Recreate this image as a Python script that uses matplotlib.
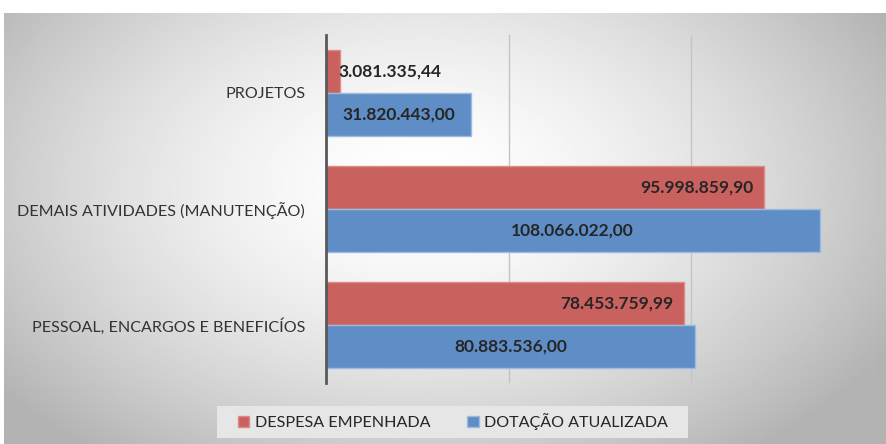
""" Despesa empenhada x dotação atualizada """
import numpy as np
from matplotlib import pyplot as plt
from matplotlib.patches import Rectangle

categorias = ["PESSOAL, ENCARGOS E BENEFICÍOS",
              "DEMAIS ATIVIDADES (MANUTENÇÃO)",
              "PROJETOS"]
despesa_empenhada = [78453759.99, 95998859.90, 3081335.44]
dotacao_atualizada = [80883536.00, 108066022.00, 31820443.00]
series = ["DESPESA EMPENHADA", "DOTAÇÃO ATUALIZADA"]


def fmt_br(v):
    s = f"{v:,.2f}"
    return s.replace(",", "X").replace(".", ",").replace("X", ".")


plt.rcParams["font.family"] = ["Lato", "DejaVu Sans"]

fig = plt.figure(figsize=(8.86, 4.44), dpi=100)
fig.patch.set_facecolor("white")

# fundo com gradiente radial
bg = fig.add_axes([4 / 886, 0, 882 / 886, 431 / 444])
yy, xx = np.mgrid[-1:1:300j, -1:1:600j]
r = np.sqrt(((xx + 0.05) / 1.0) ** 2 + ((yy + 0.2) / 1.3) ** 2)
grad = 1.0 - 0.22 * np.clip(r, 0, 1.2) ** 1.6
bg.imshow(grad, cmap="gray", vmin=0, vmax=1, aspect="auto",
          extent=[0, 1, 0, 1], interpolation="bilinear")
bg.axis("off")

ax = fig.add_axes([326 / 886, 61 / 444, 548 / 886, 348 / 444])
ax.set_facecolor("none")

y = np.arange(len(categorias))
h = 0.373
red = "#c9615f"
blue = "#5f8dc5"
lbl = dict(fontsize=12.5, fontweight="bold", color="#262626", zorder=4)

b1 = ax.barh(y + h / 2, despesa_empenhada, h, color=red,
             edgecolor="#e08a88", linewidth=1, label=series[0], zorder=3)
b2 = ax.barh(y - h / 2, dotacao_atualizada, h, color=blue,
             edgecolor="#9dbbe0", linewidth=1, label=series[1], zorder=3)

# rótulos: vermelho na ponta interna, azul no centro
for rect, v in zip(b1, despesa_empenhada):
    yc = rect.get_y() + rect.get_height() / 2
    if v < 10e6:
        ax.annotate(fmt_br(v), (v, yc), xytext=(-1, 0),
                    textcoords="offset points", ha="left", va="center", **lbl)
    else:
        ax.annotate(fmt_br(v), (v, yc), xytext=(-8, 0),
                    textcoords="offset points", ha="right", va="center", **lbl)
for rect, v in zip(b2, dotacao_atualizada):
    yc = rect.get_y() + rect.get_height() / 2
    ax.text(v / 2, yc, fmt_br(v), ha="center", va="center", **lbl)

ax.set_xlim(0, 120e6)
ax.set_ylim(-0.5, 2.5)
ax.set_xticks([40e6, 80e6, 120e6])
ax.set_xticklabels([])
ax.tick_params(axis="x", length=0)
ax.grid(axis="x", color="#c4c4c4", linewidth=1, zorder=0)
ax.set_yticks(y)
ax.set_yticklabels(categorias, fontsize=11.6, color="#333333")
ax.tick_params(axis="y", length=0, pad=15)
for s in ["top", "right", "bottom"]:
    ax.spines[s].set_visible(False)
ax.spines["left"].set_color("#595959")
ax.spines["left"].set_linewidth(2)
ax.spines["left"].set_zorder(5)

# caixa da legenda
fig.patches.append(Rectangle((217 / 886, 6 / 444), 471 / 886, 32 / 444,
                             transform=fig.transFigure, facecolor="#e6e6e6",
                             edgecolor="none", zorder=1))
leg = fig.legend(handles=[b1, b2], labels=series, loc="center",
                 bbox_to_anchor=(453 / 886, 1 - 422 / 444), ncol=2,
                 frameon=False, fontsize=11.6, handlelength=0.7,
                 handleheight=0.7, handletextpad=0.35, columnspacing=2.3)
for t in leg.get_texts():
    t.set_color("#262626")

plt.savefig("out.png", dpi=100)
